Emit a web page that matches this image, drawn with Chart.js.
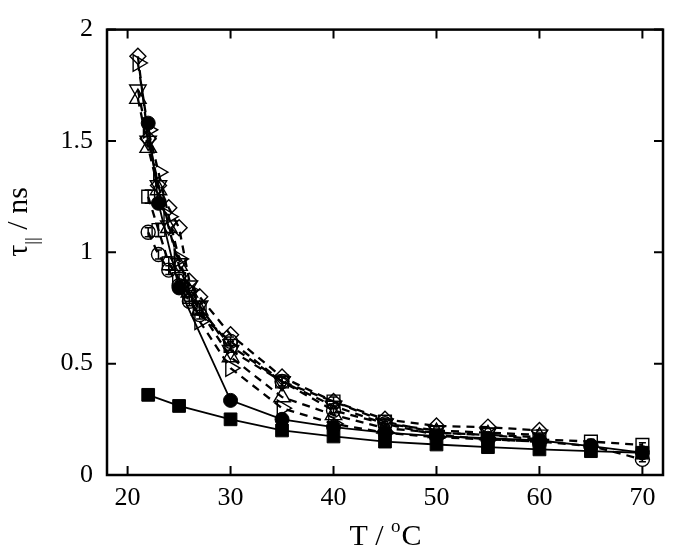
<!DOCTYPE html>
<html>
<head>
<meta charset="utf-8">
<script src="https://cdn.jsdelivr.net/npm/chart.js@4/dist/chart.umd.min.js"></script>
<style>
html, body { margin: 0; padding: 0; background: #fff; }
</style>
</head>
<body>
<canvas id="chart" width="674" height="560"></canvas>
<script>
// axis ticks
var xTicks = [20, 30, 40, 50, 60, 70];
var yTicks = [0, 0.5, 1, 1.5, 2];

// open diamonds
var tDiamond = [21, 22, 23, 24, 25, 26, 27, 30, 35, 40, 45, 50, 55, 60];
var vDiamond = [1.88, 1.51, 1.30, 1.20, 1.11, 0.87, 0.80, 0.63, 0.44, 0.33, 0.25, 0.22, 0.215, 0.20];
// open triangles, pointing right
var tRight = [21, 22, 23, 24, 25, 26, 27, 30, 35, 40, 45, 50, 55, 60];
var vRight = [1.85, 1.55, 1.36, 1.16, 0.97, 0.83, 0.69, 0.48, 0.30, 0.23, 0.19, 0.17, 0.16, 0.15];
// open triangles, pointing down
var tDown = [21, 22, 23, 24, 25, 26, 27, 30, 35, 40, 45, 50, 55, 60];
var vDown = [1.73, 1.50, 1.30, 1.12, 0.95, 0.85, 0.76, 0.56, 0.42, 0.31, 0.23, 0.20, 0.19, 0.18];
// open triangles, pointing up
var tUp = [21, 22, 23, 24, 25, 26, 27, 30, 35, 40, 45, 50, 55, 60];
var vUp = [1.69, 1.47, 1.28, 1.11, 0.94, 0.82, 0.74, 0.53, 0.35, 0.27, 0.21, 0.19, 0.18, 0.17];
// open squares (with error bars)
var tSquare = [22, 23, 24, 25, 26, 27, 30, 35, 40, 45, 50, 55, 60, 65, 70];
var vSquare = [1.25, 1.10, 0.95, 0.88, 0.80, 0.75, 0.58, 0.42, 0.33, 0.24, 0.19, 0.18, 0.16, 0.15, 0.135];
var eSquare = [0.03, 0.03, 0.03, 0.02, 0.02, 0.02, 0.02, 0.02, 0.02, 0.01, 0.01, 0.01, 0.01, 0.01, 0.01];
// open circles (with error bars)
var tCircle = [22, 23, 24, 25, 26, 27, 30, 35, 40, 45, 50, 55, 60, 65, 70];
var vCircle = [1.09, 0.99, 0.92, 0.85, 0.78, 0.72, 0.60, 0.42, 0.29, 0.23, 0.18, 0.16, 0.15, 0.13, 0.07];
var eCircle = [0.02, 0.02, 0.02, 0.02, 0.02, 0.02, 0.02, 0.02, 0.01, 0.01, 0.01, 0.01, 0.01, 0.01, 0.01];
// filled circles
var tDot = [22, 23, 25, 30, 35, 40, 45, 50, 55, 60, 65, 70];
var vDot = [1.58, 1.22, 0.84, 0.335, 0.25, 0.215, 0.19, 0.175, 0.165, 0.155, 0.13, 0.10];
// filled squares
var tBlock = [22, 25, 30, 35, 40, 45, 50, 55, 60, 65, 70];
var vBlock = [0.36, 0.31, 0.25, 0.20, 0.173, 0.15, 0.137, 0.125, 0.115, 0.107, 0.10];

function pts(t, v) {
	return t.map(function(x, i) { return { x: x, y: v[i] }; });
}

var hollow = 'rgba(255,255,255,0)';

function dashed(t, v, style, rot, r) {
	return {
		data: pts(t, v), showLine: true,
		borderColor: '#000', borderWidth: 2.3, borderDash: [8, 6],
		pointStyle: style, rotation: rot, pointRadius: r,
		pointBackgroundColor: hollow, pointBorderColor: '#000', pointBorderWidth: 1.4
	};
}

var sets = [
	dashed(tDiamond, vDiamond, 'rectRot', 0, 8),
	dashed(tDown, vDown, 'triangle', 180, 9.5),
	dashed(tUp, vUp, 'triangle', 0, 9.5),
	dashed(tRight, vRight, 'triangle', 90, 9.5),
	dashed(tSquare, vSquare, 'rect', 0, 9),
	dashed(tCircle, vCircle, 'circle', 0, 7),
	{
		data: pts(tDot, vDot), showLine: true,
		borderColor: '#000', borderWidth: 1.8,
		pointStyle: 'circle', pointRadius: 7,
		pointBackgroundColor: '#000', pointBorderColor: '#000', pointBorderWidth: 1
	},
	{
		data: pts(tBlock, vBlock), showLine: true,
		borderColor: '#000', borderWidth: 1.8,
		pointStyle: 'rect', pointRadius: 9,
		pointBackgroundColor: '#000', pointBorderColor: '#000', pointBorderWidth: 1
	}
];
sets[4].err = eSquare;
sets[5].err = eCircle;

var errBars = {
	id: 'errBars',
	afterDatasetsDraw: function(chart) {
		var ctx = chart.ctx, xs = chart.scales.x, ys = chart.scales.y;
		ctx.save();
		ctx.strokeStyle = '#000';
		ctx.lineWidth = 1.5;
		chart.data.datasets.forEach(function(ds) {
			if (!ds.err) return;
			ds.data.forEach(function(p, i) {
				var x = xs.getPixelForValue(p.x);
				var y1 = ys.getPixelForValue(p.y - ds.err[i]);
				var y2 = ys.getPixelForValue(p.y + ds.err[i]);
				ctx.beginPath();
				ctx.moveTo(x, y1); ctx.lineTo(x, y2);
				ctx.moveTo(x - 3.5, y1); ctx.lineTo(x + 3.5, y1);
				ctx.moveTo(x - 3.5, y2); ctx.lineTo(x + 3.5, y2);
				ctx.stroke();
			});
		});
		ctx.restore();
	}
};

var frame = {
	id: 'frame',
	afterDraw: function(chart) {
		var ctx = chart.ctx, a = chart.chartArea, xs = chart.scales.x, ys = chart.scales.y;
		ctx.save();
		ctx.strokeStyle = '#000';
		ctx.lineWidth = 2.5;
		ctx.strokeRect(a.left, a.top, a.right - a.left, a.bottom - a.top);
		ctx.lineWidth = 2;
		ctx.beginPath();
		xTicks.forEach(function(v) {
			var x = xs.getPixelForValue(v);
			ctx.moveTo(x, a.bottom); ctx.lineTo(x, a.bottom - 9);
			ctx.moveTo(x, a.top); ctx.lineTo(x, a.top + 9);
		});
		yTicks.forEach(function(v) {
			var y = ys.getPixelForValue(v);
			ctx.moveTo(a.left, y); ctx.lineTo(a.left + 9, y);
			ctx.moveTo(a.right, y); ctx.lineTo(a.right - 9, y);
		});
		ctx.stroke();

		// axis titles
		ctx.fillStyle = '#000';
		ctx.textBaseline = 'alphabetic';
		ctx.textAlign = 'left';
		var big = '30px "Liberation Serif"', small = '19px "Liberation Serif"';
		// x title: T / oC with superscript o
		ctx.font = big;
		var w1 = ctx.measureText('T / ').width, w3 = ctx.measureText('C').width;
		ctx.font = small;
		var w2 = ctx.measureText('o').width;
		var x0 = (a.left + a.right) / 2 - (w1 + w2 + w3) / 2, yb = 545;
		ctx.font = big; ctx.fillText('T / ', x0, yb);
		ctx.font = small; ctx.fillText('o', x0 + w1, yb - 13);
		ctx.font = big; ctx.fillText('C', x0 + w1 + w2 + 1, yb);

		// y title: tau with subscript || then / ns
		ctx.translate(27, 222);
		ctx.rotate(-Math.PI / 2);
		ctx.font = big;
		var t1 = ctx.measureText('\u03C4').width, t3 = ctx.measureText(' / ns').width;
		ctx.font = small;
		var t2 = ctx.measureText('||').width;
		var s0 = -(t1 + t2 + t3) / 2;
		ctx.font = big; ctx.fillText('\u03C4', s0, 0);
		ctx.font = small; ctx.fillText('||', s0 + t1, 11);
		ctx.font = big; ctx.fillText(' / ns', s0 + t1 + t2, 0);
		ctx.restore();
	}
};

var tickFont = { family: 'Liberation Serif', size: 26 };

new Chart(document.getElementById('chart'), {
	type: 'scatter',
	data: { datasets: sets },
	options: {
		responsive: false,
		animation: false,
		devicePixelRatio: 1,
		layout: { padding: { top: 21, right: 11, left: 0, bottom: 0 } },
		plugins: { legend: { display: false }, tooltip: { enabled: false } },
		elements: { line: { tension: 0 } },
		scales: {
			x: {
				type: 'linear', min: 18, max: 72,
				grid: { display: false, drawTicks: false },
				border: { display: false },
				afterBuildTicks: function(s) { s.ticks = xTicks.map(function(v) { return { value: v }; }); },
				afterFit: function(s) { s.height = 85; },
				ticks: { font: tickFont, color: '#000', padding: 8, maxRotation: 0,
					callback: function(v) { return String(v); } }
			},
			y: {
				type: 'linear', min: 0, max: 2,
				grid: { display: false, drawTicks: false },
				border: { display: false },
				afterBuildTicks: function(s) { s.ticks = yTicks.map(function(v) { return { value: v }; }); },
				afterFit: function(s) { s.width = 107; },
				ticks: { font: tickFont, color: '#000', padding: 14,
					callback: function(v) { return String(v); } }
			}
		}
	},
	plugins: [errBars, frame]
});
</script>
</body>
</html>
